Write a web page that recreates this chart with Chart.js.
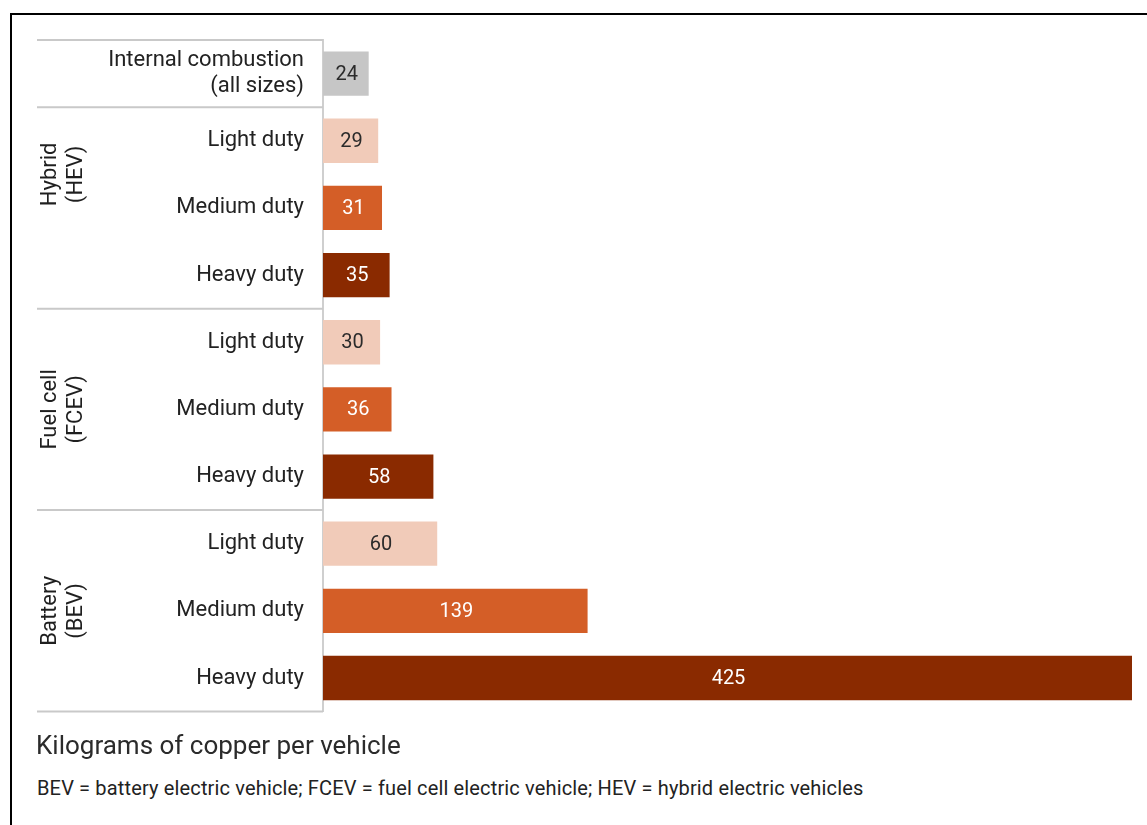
<!DOCTYPE html>
<html>
<head>
<meta charset="utf-8">
<script src="https://cdn.jsdelivr.net/npm/chart.js@4"></script>
<style>
  html, body { margin: 0; padding: 0; background: #fff; }
  body { width: 1147px; height: 825px; position: relative; overflow: hidden; font-family: Roboto, sans-serif; }
  .frame { position: absolute; left: 10px; top: 13px; width: 1200px; height: 900px;
           border-top: 2px solid #000; border-left: 2px solid #000; }
  #chart { position: absolute; left: 0; top: 0; }
  .unit { position: absolute; left: 36px; top: 730px; font-size: 26px; color: #2b2b2b; }
  .note { position: absolute; left: 37px; top: 776px; font-size: 20px; letter-spacing: 0.15px; color: #222; }
</style>
</head>
<body>
<div class="frame"></div>
<canvas id="chart" width="1147" height="749"></canvas>
<div class="unit">Kilograms of copper per vehicle</div>
<div class="note">BEV = battery electric vehicle; FCEV = fuel cell electric vehicle; HEV = hybrid electric vehicles</div>

<script>
// rows, top to bottom
const categories = [
    ['Internal combustion', '(all sizes)'],
    'Light duty', 'Medium duty', 'Heavy duty',
    'Light duty', 'Medium duty', 'Heavy duty',
    'Light duty', 'Medium duty', 'Heavy duty'
];
const copperKg = [24, 29, 31, 35, 30, 36, 58, 60, 139, 425];
const dutySize = ['ice', 'light', 'medium', 'heavy', 'light', 'medium', 'heavy', 'light', 'medium', 'heavy'];

// powertrain groups: label and first/last row
const groupNames = [['Hybrid', '(HEV)'], ['Fuel cell', '(FCEV)'], ['Battery', '(BEV)']];
const groupFirstRow = [1, 4, 7];
const groupLastRow = [3, 6, 9];

const sizeColors = { ice: '#c6c6c6', light: '#f1cbb9', medium: '#d45e27', heavy: '#8a2a00' };
const sizeText = { ice: '#2b2b2b', light: '#2b2b2b', medium: '#ffffff', heavy: '#ffffff' };

const FONT = 'Roboto, sans-serif';

// value printed in the middle of each bar
const valueLabels = {
    id: 'valueLabels',
    afterDatasetsDraw(chart) {
        const { ctx } = chart;
        const meta = chart.getDatasetMeta(0);
        ctx.save();
        ctx.font = '20px ' + FONT;
        ctx.textAlign = 'center';
        ctx.textBaseline = 'middle';
        meta.data.forEach((bar, i) => {
            ctx.fillStyle = sizeText[dutySize[i]];
            ctx.fillText(copperKg[i], (bar.base + bar.x) / 2 + 1, bar.y + 1);
        });
        ctx.restore();
    }
};

// row separators and rotated group names on the left
const groupLabels = {
    id: 'groupLabels',
    afterDraw(chart) {
        const { ctx, chartArea } = chart;
        const y = chart.scales.y;
        const half = (y.getPixelForValue(1) - y.getPixelForValue(0)) / 2;
        const edges = [y.getPixelForValue(0) - half];
        groupFirstRow.forEach(r => edges.push(y.getPixelForValue(r) - half));
        edges.push(y.getPixelForValue(categories.length - 1) + half);

        ctx.save();
        ctx.strokeStyle = '#c9c9c9';
        ctx.lineWidth = 2;
        edges.forEach(py => {
            ctx.beginPath();
            ctx.moveTo(37, py);
            ctx.lineTo(chartArea.left, py);
            ctx.stroke();
        });

        // hybrid name sits a little higher than the other two
        const labelRow = [1.5, 5, 8];
        ctx.fillStyle = '#1f1f1f';
        ctx.font = '22px ' + FONT;
        ctx.textAlign = 'center';
        ctx.textBaseline = 'middle';
        groupNames.forEach((lines, g) => {
            const r = labelRow[g];
            const py = y.getPixelForValue(Math.floor(r)) + (r % 1) * half * 2;
            ctx.save();
            ctx.translate(63, py);
            ctx.rotate(-Math.PI / 2);
            ctx.fillText(lines[0], 0, -13);
            ctx.fillText(lines[1], 0, 13);
            ctx.restore();
        });
        ctx.restore();
    }
};

new Chart(document.getElementById('chart'), {
    type: 'bar',
    data: {
        labels: categories,
        datasets: [{
            data: copperKg,
            backgroundColor: dutySize.map(s => sizeColors[s]),
            borderWidth: 0,
            barPercentage: 0.66,
            categoryPercentage: 1
        }]
    },
    options: {
        indexAxis: 'y',
        responsive: false,
        animation: false,
        events: [],
        layout: { padding: { top: 40, bottom: 14, left: 0, right: 15 } },
        plugins: {
            legend: { display: false },
            tooltip: { enabled: false }
        },
        scales: {
            x: { display: false, min: 0, max: 425 },
            y: {
                afterFit(scale) { scale.width = 323; },
                grid: { display: false },
                border: { display: true, color: '#cfcfcf', width: 2 },
                ticks: {
                    padding: 11,
                    color: '#222',
                    font: { family: FONT, size: 22 }
                }
            }
        }
    },
    plugins: [valueLabels, groupLabels]
});
</script>
</body>
</html>
